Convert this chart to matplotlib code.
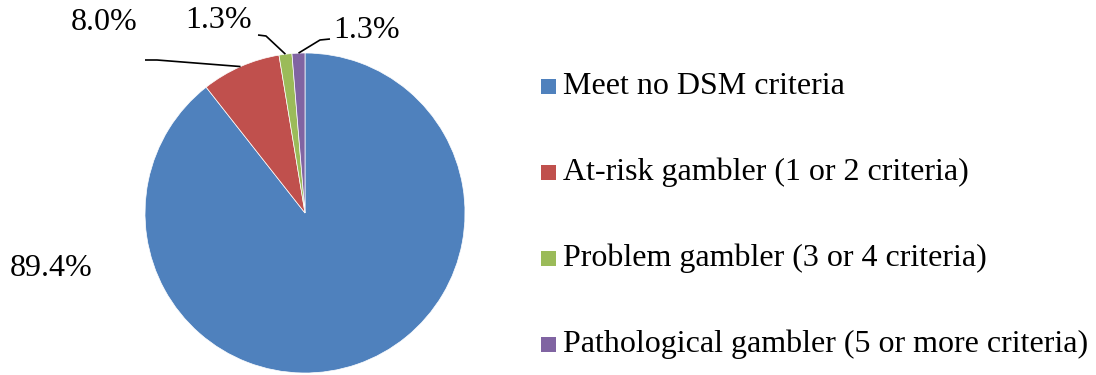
import numpy as np
import matplotlib
matplotlib.use("Agg")
import matplotlib.pyplot as plt
from matplotlib.patches import Rectangle

categories = ["Meet no DSM criteria",
              "At-risk gambler (1 or 2 criteria)",
              "Problem gambler (3 or 4 criteria)",
              "Pathological gambler (5 or more criteria)"]
shares = [89.4, 8.0, 1.3, 1.3]
colors = ["#4F81BD", "#C0504D", "#9BBB59", "#8064A2"]

plt.rcParams["font.family"] = ["Liberation Serif", "DejaVu Serif"]
fontsize = 23

fig = plt.figure(figsize=(10.96, 3.75), dpi=100)
ax = fig.add_axes([0, 0, 1, 1])

wedges, _ = ax.pie(shares, colors=colors, startangle=90, counterclock=False,
                   radius=1, center=(0, 0), frame=True,
                   wedgeprops=dict(edgecolor="white", linewidth=0.5))
# one data unit = pie radius = 160 px, pie centre at (305, 213) px
ax.set_xlim(-305 / 160, (1096 - 305) / 160)
ax.set_ylim(-(375 - 213) / 160, 213 / 160)
ax.set_aspect("equal")
ax.axis("off")

def px(x, y):
    return (x - 305) / 160, (213 - y) / 160

def edge_point(w):
    mid = np.deg2rad((w.theta1 + w.theta2) / 2)
    return np.cos(mid), np.sin(mid)

# label layout: (text pos, elbow points of the leader line)
layout = [
    (px(51, 268), None),
    (px(104, 22), [px(145, 60), px(157, 60)]),
    (px(219, 21), [px(258, 35), px(266, 36)]),
    (px(367, 30), [px(330, 39), px(320, 40)]),
]

for w, val, (tpos, elbow) in zip(wedges, shares, layout):
    ax.text(tpos[0], tpos[1], f"{val:.1f}%", ha="center", va="center",
            fontsize=fontsize, color="black")
    if elbow:
        ex, ey = edge_point(w)
        xs = [p[0] for p in elbow] + [ex]
        ys = [p[1] for p in elbow] + [ey]
        ax.plot(xs, ys, color="black", lw=1.2, solid_capstyle="butt")

# legend
row_y = [86, 172, 258, 344]
for c, lab, ry in zip(colors, categories, row_y):
    x0, y0 = px(541, ry + 7.5)
    ax.add_patch(Rectangle((x0, y0), 15 / 160, 15 / 160, facecolor=c,
                           edgecolor="none"))
    tx, ty = px(563, ry)
    ax.text(tx, ty, lab, ha="left", va="center", fontsize=fontsize)

fig.savefig("out.png", dpi=100)
